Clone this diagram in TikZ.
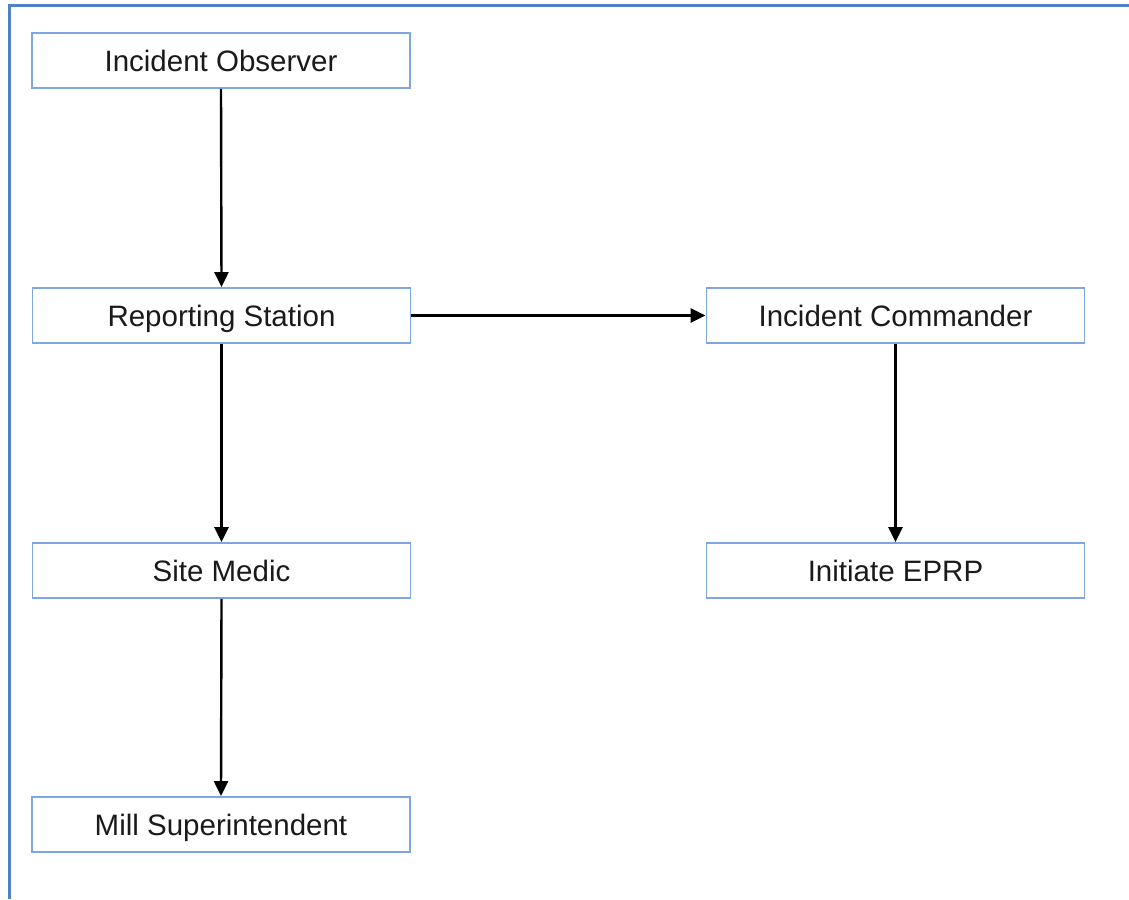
\documentclass[tikz,border=0pt]{standalone}
\usepackage{fontspec}
\setmainfont{Liberation Sans}
\usetikzlibrary{arrows.meta}
\definecolor{framec}{HTML}{4F81C7}
\definecolor{boxc}{HTML}{7EA6E0}
\definecolor{textc}{HTML}{1A1A1A}
\tikzset{
  box/.style={draw=boxc, line width=1.8pt, fill=white, minimum width=378pt, minimum height=55pt, inner sep=0pt, text=textc, text height=24pt, text depth=3pt, font=\fontsize{29.5}{34}\selectfont},
  conn/.style={line width=2.4pt, -{Triangle[width=14pt,length=15pt]}}
}
\begin{document}
\begin{tikzpicture}[x=1pt,y=-1pt]
\useasboundingbox (0,0) rectangle (1129,899);
\fill[white] (0,0) rectangle (1129,899);
\draw[framec, line width=3pt] (9,899) -- (9,6) -- (1129,6);
\node[box] (obs) at (221,60.5) {Incident Observer};
\node[box] (rep) at (221.5,315.5) {Reporting Station};
\node[box] (cmd) at (895.5,315.5) {Incident Commander};
\node[box] (med) at (221.5,570.5) {Site Medic};
\node[box] (eprp) at (895.5,570.5) {Initiate EPRP};
\node[box] (mill) at (221,824.5) {Mill Superintendent};
\draw[conn] (obs.south) -- (rep.north);
\draw[conn] (rep.east) -- (cmd.west);
\draw[conn] (rep.south) -- (med.north);
\draw[conn] (med.south) -- (mill.north);
\draw[conn] (cmd.south) -- (eprp.north);
\end{tikzpicture}
\end{document}
